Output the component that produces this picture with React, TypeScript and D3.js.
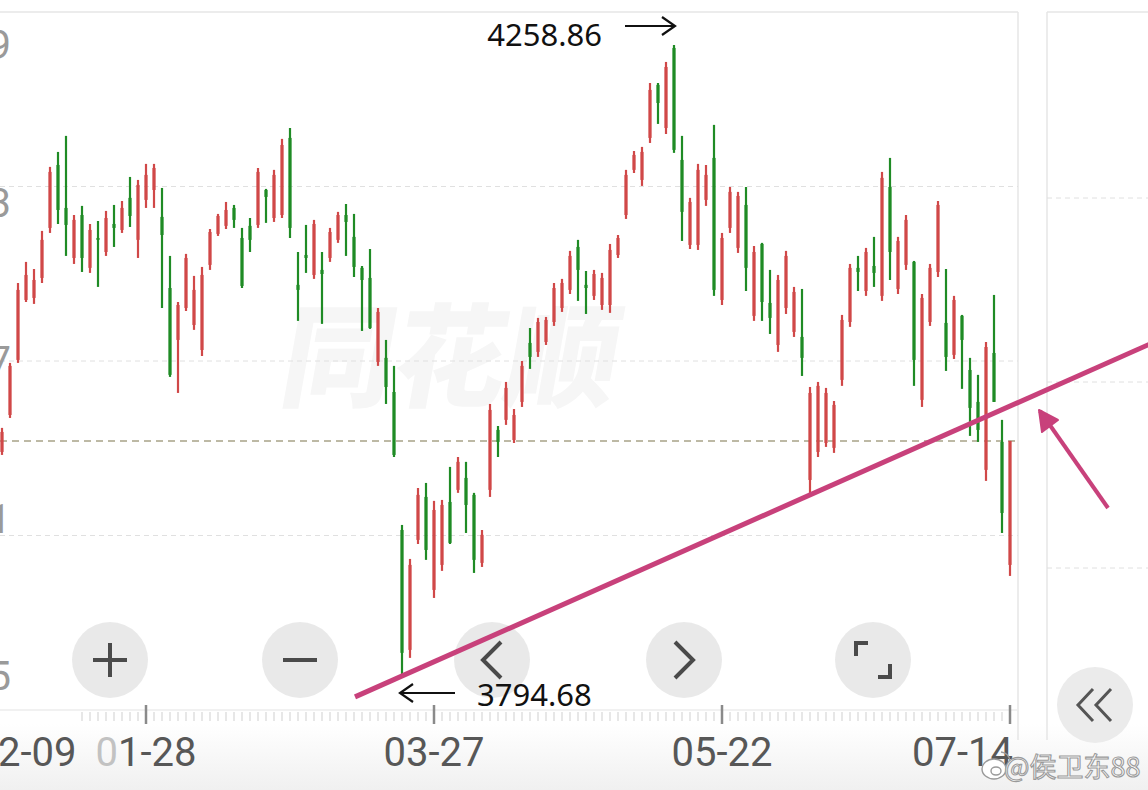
import React from 'react';
import * as d3 from 'd3';

// ---- data ----
const opens = [3959.5,3986.7,4027.2,4071.3,4072.8,4087.5,4124.3,4170.6,4139.0,4102.2,4133.8,4094.9,4116.9,4106.6,4127.2,4122.8,4146.4,4115.5,4144.9,4152.2,4132.4,4080.1,4041.9,4065.4,4052.9,4034.5,4097.1,4119.9,4125.8,4139.0,4116.9,4125.8,4126.5,4152.2,4131.6,4133.8,4190.5,4082.4,4104.4,4089.7,4093.4,4102.2,4115.5,4133.8,4117.7,4094.9,4087.5,4025.7,4028.7,4003.6,3902.1,3813.9,3894.8,3926.4,3858.0,3876.4,3922.7,3931.6,3940.4,3927.9,3877.9,3931.6,3975.7,3983.1,3968.3,3996.3,4039.7,4033.1,4040.4,4055.1,4065.4,4078.7,4110.3,4082.4,4074.3,4067.6,4067.6,4104.4,4133.8,4167.0,4159.6,4190.5,4229.5,4197.8,4256.7,4174.3,4111.8,4111.8,4144.9,4175.8,4071.3,4124.3,4109.6,4141.2,4059.6,4112.5,4069.1,4038.2,4065.4,4047.8,4044.1,3938.9,3959.5,3966.1,3962.5,4012.5,4055.1,4094.9,4077.9,4096.3,4074.3,4154.4,4079.4,4097.1,4099.3,3997.8,4055.1,4091.9,4054.4,4030.9,4059.6,4019.8,3996.3,3946.3,4032.3,3966.9,3876.4];
const highs = [3977.2,4025.0,4083.8,4099.3,4094.1,4122.1,4169.2,4180.2,4192.0,4133.8,4140.5,4127.2,4129.4,4136.8,4141.2,4144.1,4161.8,4159.6,4171.4,4171.4,4153.7,4103.7,4069.8,4105.2,4089.0,4095.6,4123.5,4134.6,4143.4,4141.2,4124.3,4131.6,4168.4,4153.0,4167.0,4189.8,4197.8,4106.6,4126.5,4130.2,4106.6,4124.3,4136.1,4141.9,4134.6,4096.3,4108.8,4065.4,4041.9,4022.8,3905.8,3880.8,3933.0,3936.7,3923.5,3924.2,3948.5,3955.8,3952.2,3929.4,3902.1,3994.8,3978.6,4011.0,3991.1,4026.4,4050.7,4058.1,4058.8,4083.8,4086.8,4107.4,4115.5,4092.6,4093.4,4091.2,4112.5,4119.1,4167.0,4180.9,4183.9,4230.9,4230.9,4246.4,4258.86,4192.0,4146.4,4171.4,4170.6,4200.1,4120.6,4154.4,4150.8,4154.4,4111.0,4113.3,4093.4,4089.7,4107.4,4080.9,4079.4,4007.3,4011.0,4006.6,3997.0,4060.3,4097.8,4103.7,4109.6,4117.7,4165.5,4175.8,4117.7,4133.8,4100.0,4075.7,4097.8,4144.1,4094.1,4074.3,4060.3,4028.7,4016.2,4040.4,4075.0,3983.1,3967.6];
const lows = [3957.3,3984.5,4025.0,4069.8,4068.4,4083.8,4120.6,4127.2,4103.7,4097.8,4091.9,4091.2,4080.9,4103.7,4110.3,4120.6,4125.0,4102.2,4139.0,4139.0,4065.4,4014.7,4002.9,4063.2,4049.3,4030.1,4093.4,4118.4,4123.5,4124.3,4080.1,4106.6,4124.3,4128.0,4128.7,4131.6,4116.9,4055.9,4091.2,4086.8,4053.7,4099.3,4113.3,4103.7,4088.2,4048.5,4050.0,4022.8,3994.8,3955.8,3794.68,3808.0,3891.8,3880.1,3852.1,3872.0,3891.8,3929.4,3899.9,3870.5,3874.9,3926.4,3955.8,3979.4,3966.1,3992.6,4020.6,4029.4,4038.2,4052.2,4062.5,4075.7,4070.6,4061.0,4071.3,4064.0,4061.8,4102.2,4130.9,4164.7,4155.2,4186.8,4200.8,4193.4,4179.5,4114.7,4108.8,4108.1,4140.5,4074.3,4067.6,4120.6,4105.9,4077.9,4055.9,4055.9,4046.3,4033.1,4061.0,4044.1,4015.4,3927.9,3955.8,3963.2,3958.8,4008.1,4051.5,4077.9,4074.3,4080.9,4070.6,4086.0,4075.7,4093.4,4008.1,3992.6,4052.2,4088.2,4019.1,4027.9,4005.9,3971.3,3966.9,3938.2,3996.3,3899.9,3868.3];
const closes = [3974.2,4022.8,4078.7,4089.7,4086.0,4115.5,4165.5,4137.5,4126.5,4130.2,4102.2,4122.8,4115.5,4131.6,4124.3,4139.0,4133.1,4155.9,4163.3,4168.4,4119.1,4016.2,4067.6,4102.2,4078.7,4089.7,4121.3,4133.1,4137.5,4130.2,4081.6,4115.5,4165.5,4147.1,4163.3,4185.3,4124.3,4078.7,4102.2,4127.2,4090.4,4121.3,4133.8,4128.7,4095.6,4086.0,4050.7,4062.5,4007.3,3957.3,3811.7,3876.4,3927.9,3887.4,3916.8,3920.5,3892.6,3952.2,3920.5,3880.1,3898.5,3990.4,3966.9,4006.6,3986.7,4022.8,4029.4,4055.1,4056.6,4080.1,4083.8,4103.7,4093.4,4080.1,4090.4,4087.5,4108.1,4116.9,4163.3,4178.0,4180.2,4225.8,4216.2,4242.7,4181.7,4136.1,4143.4,4167.0,4163.3,4078.7,4116.9,4150.8,4147.8,4094.9,4106.6,4069.8,4058.1,4086.0,4103.7,4077.2,4028.7,4002.9,4008.1,4002.9,3994.1,4056.6,4094.9,4091.9,4106.6,4091.2,4161.1,4106.6,4114.7,4130.2,4027.2,4072.8,4094.9,4141.2,4029.4,4071.3,4041.9,3991.9,3975.7,4036.7,3996.3,3914.6,3967.6];

const xTickIndex = [18, 54, 90, 126];
const xTickLabels = ['01-28', '03-27', '05-22', '07-14'];
const leftEdgeLabel = '12-09';
const yTickValues = [4258.86, 4142.82, 4026.77, 3910.73, 3794.68];
const trendAnchors = [50, 101];
const watermark = '同花顺';
const weiboTag = '@侯卫东88';

// ---- layout ----
const W = 1148, H = 790;
const plotTop = 12, plotBottom = 710, plotRight = 1018;
const RED = '#d04848', GREEN = '#1f8b25', PINK = '#c8417b';
const FONT = 'Roboto, "Noto Sans", sans-serif';

export default function App() {
  const n = closes.length;
  const x = d3.scaleLinear().domain([0, n - 1]).range([2, 1010]);
  const y = d3.scaleLinear().domain([d3.min(lows)!, d3.max(highs)!]).range([676, 45]);

  const iMax = d3.maxIndex(highs);
  const iMin = d3.minIndex(lows);
  const fmt2 = d3.format('.2f');
  const fmt0 = d3.format('.0f');

  // trend line through the two lows
  const [a, b] = trendAnchors;
  const slope = (lows[b] - lows[a]) / (b - a);
  const tl = (t: number) => lows[a] + (t - a) * slope;
  const t0 = x.invert(355), t1 = x.invert(1160);
  const trendPath = d3.line<number>().x((t) => x(t)).y((t) => y(tl(t)))([t0, t1]) || '';

  const gridYs = [1, 2, 3].map((k) => plotTop + (k * (plotBottom - plotTop)) / 4);
  const lastClose = closes[n - 1];

  const btnY = 660;
  const btnXs = [110, 300, 492, 684, 873];
  const icon = { stroke: '#4a4a4a', strokeWidth: 4, fill: 'none' } as const;

  const xMaxC = x(iMax), yMaxC = y(highs[iMax]);
  const xMinC = x(iMin), yMinC = y(lows[iMin]);

  return (
    <svg width={W} height={H} style={{ position: 'absolute', left: 0, top: 0, background: '#fff' }}>
      <defs>
        <linearGradient id="bot" x1="0" y1="0" x2="0" y2="1">
          <stop offset="0" stopColor="#ffffff" />
          <stop offset="1" stopColor="#f0f0f0" />
        </linearGradient>
      </defs>
      <rect x={0} y={0} width={W} height={H} fill="#fff" />
      <rect x={0} y={724} width={W} height={H - 724} fill="url(#bot)" />

      {/* watermark */}
      <text x={445} y={398} textAnchor="middle" fontSize={112} fontWeight={900}
        fontFamily='"Noto Sans CJK SC", sans-serif' fill="#f6f6f6"
        transform="skewX(-10) translate(70,0)">{watermark}</text>

      {/* frame and grid */}
      <line x1={0} x2={plotRight} y1={plotTop} y2={plotTop} stroke="#e6e6e6" strokeWidth={1.5} />
      <line x1={plotRight} x2={plotRight} y1={plotTop} y2={740} stroke="#e6e6e6" strokeWidth={1.5} />
      {gridYs.map((gy, k) => (
        <line key={k} x1={0} x2={plotRight} y1={gy} y2={gy} stroke="#e0e0e0" strokeDasharray="5,4" />
      ))}
      <line x1={0} x2={plotRight} y1={plotBottom} y2={plotBottom} stroke="#ececec" strokeWidth={1.5} />
      {/* last price line */}
      <line x1={0} x2={plotRight} y1={y(lastClose)} y2={y(lastClose)} stroke="#a8a388" strokeWidth={1.5} strokeDasharray="7,5" />

      {/* right panel */}
      <line x1={1047} x2={1047} y1={plotTop} y2={740} stroke="#e6e6e6" strokeWidth={1.5} />
      <line x1={1047} x2={W} y1={plotTop} y2={plotTop} stroke="#e6e6e6" strokeWidth={1.5} />
      {[198, 382, 568].map((gy) => (
        <line key={gy} x1={1047} x2={W} y1={gy} y2={gy} stroke="#e0e0e0" strokeDasharray="5,4" />
      ))}

      {/* y labels (cropped at the left edge, as in the reference) */}
      {yTickValues.map((v, k) => (
        <text key={k} x={11} y={y(v)} dy="0.36em" textAnchor="end" fontSize={40}
          fontFamily={FONT} fill="#9a9a9a">{fmt0(v)}</text>
      ))}

      {/* candles */}
      {closes.map((c, i) => {
        const up = c >= opens[i];
        const col = up ? RED : GREEN;
        const cx = x(i);
        const yTop = y(Math.max(opens[i], c));
        const yBot = y(Math.min(opens[i], c));
        return (
          <g key={i}>
            <line x1={cx} x2={cx} y1={y(highs[i])} y2={y(lows[i])} stroke={col} strokeWidth={2.2} />
            <rect x={cx - 1.6} y={yTop} width={3.2} height={Math.max(1.5, yBot - yTop)} fill={col} />
          </g>
        );
      })}

      {/* x axis ticks */}
      {closes.map((_, i) => i >= 10 && !xTickIndex.includes(i) ? (
        <line key={'t' + i} x1={x(i)} x2={x(i)} y1={712} y2={721} stroke="#cfcfcf" strokeWidth={1} />
      ) : null)}
      {xTickIndex.map((i) => (
        <line key={'M' + i} x1={x(i)} x2={x(i)} y1={705} y2={724} stroke="#8a8a8a" strokeWidth={2.5} />
      ))}
      <text x={x(3)} y={766} textAnchor="middle" fontSize={40} fontFamily={FONT} fill="#575757">{leftEdgeLabel}</text>
      {xTickIndex.map((i, k) => {
        const last = k === xTickIndex.length - 1;
        const label = xTickLabels[k];
        return (
          <text key={'L' + i} x={last ? x(i) + 3 : x(i)} y={766} textAnchor={last ? 'end' : 'middle'}
            fontSize={40} fontFamily={FONT} fill="#575757">
            {k === 0 ? (<><tspan fill="#c2c2c2">{label[0]}</tspan>{label.slice(1)}</>) : label}
          </text>
        );
      })}

      {/* control buttons */}
      {btnXs.map((bx) => (
        <circle key={bx} cx={bx} cy={btnY} r={38} fill="#e4e4e4" opacity={0.82} />
      ))}
      <path d={`M${110 - 17},${btnY}H${110 + 17}M110,${btnY - 17}V${btnY + 17}`} {...icon} />
      <path d={`M${300 - 17},${btnY}H${300 + 17}`} {...icon} />
      <path d={`M${492 + 9},${btnY - 18}L${492 - 9},${btnY}L${492 + 9},${btnY + 18}`} {...icon} />
      <path d={`M${684 - 9},${btnY - 18}L${684 + 9},${btnY}L${684 - 9},${btnY + 18}`} {...icon} />
      <path d={`M${873 - 17},${btnY - 4}V${btnY - 17}H${873 - 5}M${873 + 17},${btnY + 4}V${btnY + 17}H${873 + 5}`} {...icon} />

      {/* collapse button on right panel */}
      <circle cx={1095} cy={705} r={38} fill="#ebebeb" />
      <path d="M1093,689L1078,705L1093,721M1111,689L1096,705L1111,721" stroke="#555" strokeWidth={3} fill="none" />

      {/* trend line and pointer arrow */}
      <path d={trendPath} stroke={PINK} strokeWidth={5} fill="none" />
      <path d="M1108,508L1040,411" stroke={PINK} strokeWidth={4} fill="none" />
      <path d="M1039,410L1042,432L1058,420Z" fill={PINK} stroke={PINK} strokeWidth={2} strokeLinejoin="round" />

      {/* max / min annotations */}
      <text x={xMaxC - 72} y={yMaxC + 1} textAnchor="end" fontSize={31} fontFamily='"Noto Sans", sans-serif' fill="#111">{fmt2(highs[iMax])}</text>
      <path d={`M${xMaxC - 49},${yMaxC - 19}H${xMaxC + 1}M${xMaxC - 12},${yMaxC - 28}L${xMaxC + 1},${yMaxC - 19}L${xMaxC - 12},${yMaxC - 10}`}
        stroke="#111" strokeWidth={2.2} fill="none" />
      <path d={`M${xMinC + 53},${yMinC + 17}H${xMinC - 2}M${xMinC + 11},${yMinC + 8}L${xMinC - 2},${yMinC + 17}L${xMinC + 11},${yMinC + 26}`}
        stroke="#111" strokeWidth={2.2} fill="none" />
      <text x={xMinC + 75} y={yMinC + 30} fontSize={31} fontFamily='"Noto Sans", sans-serif' fill="#111">{fmt2(lows[iMin])}</text>

      {/* weibo tag */}
      <g stroke="#9a9a9a" strokeWidth={1.4} fill="#fff">
        <ellipse cx={994} cy={769} rx={12} ry={10} />
        <ellipse cx={996} cy={771} rx={5} ry={4} />
        <path d="M1001,752 q8,1 9,9" fill="none" />
      </g>
      <text x={1004} y={777} fontSize={27} fontFamily='"Noto Sans CJK SC", sans-serif' fill="#fff" stroke="#9a9a9a" strokeWidth={1.1}>{weiboTag}</text>
    </svg>
  );
}
